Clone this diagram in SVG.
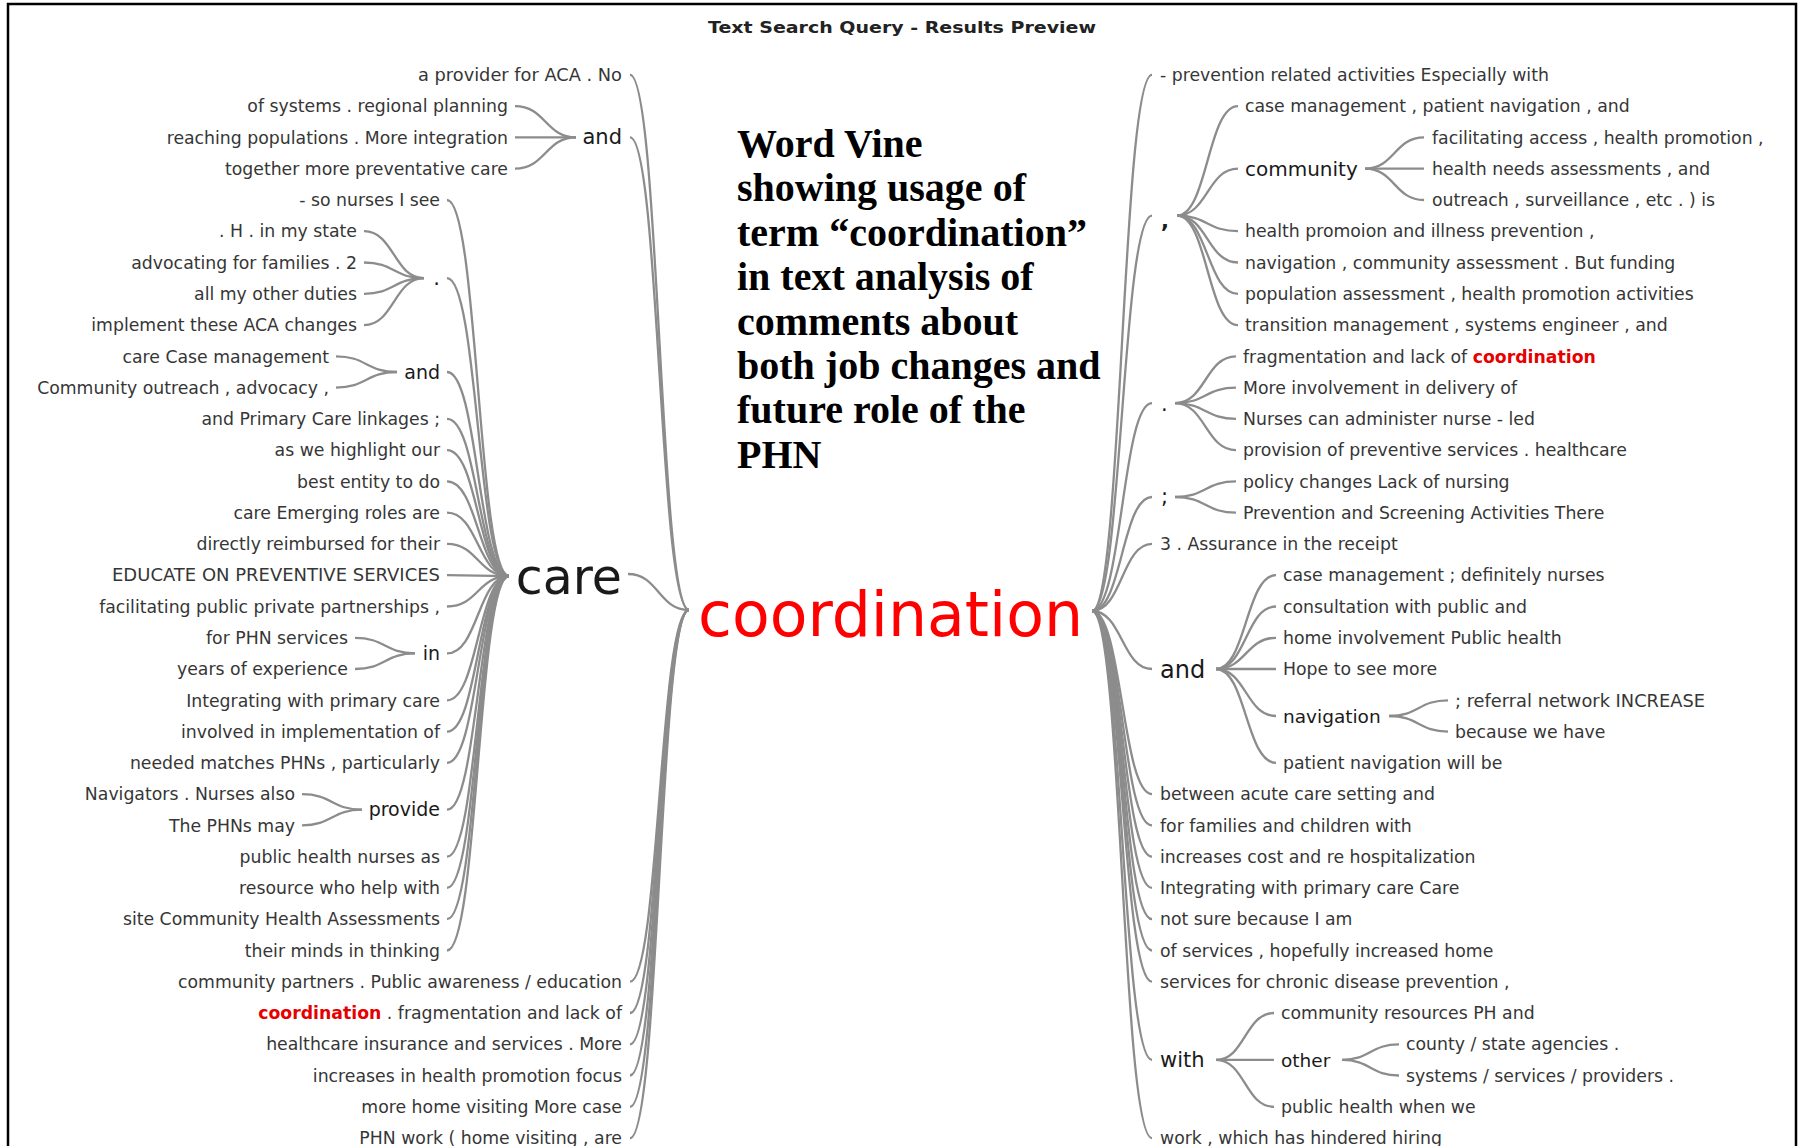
<svg xmlns="http://www.w3.org/2000/svg" width="1806" height="1146" viewBox="0 0 1806 1146">
<style>
text{font-family:"DejaVu Sans",Verdana,sans-serif;}
.s{font-size:17.3px;fill:#363636;}
.e{text-anchor:end;}
.n{fill:#1a1a1a;}
.r{fill:#e60000;font-weight:bold;}
.title{font-size:15px;font-weight:bold;fill:#222;text-anchor:middle;}
.head{font-family:"Liberation Serif","Times New Roman",serif;font-size:40px;font-weight:bold;fill:#000;}
#connectors path{fill:none;stroke:#8c8c8c;stroke-width:2.3;}
</style>
<rect x="8" y="4" width="1788" height="1160" fill="#fff" stroke="#000" stroke-width="2.5"/>
<text class="title" x="902" y="33" textLength="388" lengthAdjust="spacingAndGlyphs">Text Search Query - Results Preview</text>
<g id="heading">
<text class="head" x="737" y="156.5">Word Vine</text>
<text class="head" x="737" y="201">showing usage of</text>
<text class="head" x="737" y="245.5">term “coordination”</text>
<text class="head" x="737" y="290">in text analysis of</text>
<text class="head" x="737" y="334.5">comments about</text>
<text class="head" x="737" y="378.5">both job changes and</text>
<text class="head" x="737" y="423">future role of the</text>
<text class="head" x="737" y="467.5">PHN</text>
</g>
<g id="connectors">
<path d="M689 610 C659.5 610 659.5 74.9 630 74.9"/>
<path d="M689 610 C659.5 610 659.5 137.4 630 137.4"/>
<path d="M689 610 C658.5 610 658.5 574 628 574"/>
<path d="M689 610 C659.5 610 659.5 981.7 630 981.7"/>
<path d="M689 610 C659.5 610 659.5 1013 630 1013"/>
<path d="M689 610 C659.5 610 659.5 1044.3 630 1044.3"/>
<path d="M689 610 C659.5 610 659.5 1075.5 630 1075.5"/>
<path d="M689 610 C659.5 610 659.5 1106.8 630 1106.8"/>
<path d="M689 610 C659.5 610 659.5 1138.1 630 1138.1"/>
<path d="M576 137.4 C545.5 137.4 545.5 106.2 515 106.2"/>
<path d="M576 137.4 C545.5 137.4 545.5 137.4 515 137.4"/>
<path d="M576 137.4 C545.5 137.4 545.5 168.7 515 168.7"/>
<path d="M509 576 C478 576 478 200 447 200"/>
<path d="M509 576 C478 576 478 278.2 447 278.2"/>
<path d="M509 576 C478 576 478 372 447 372"/>
<path d="M509 576 C478 576 478 418.9 447 418.9"/>
<path d="M509 576 C478 576 478 450.1 447 450.1"/>
<path d="M509 576 C478 576 478 481.4 447 481.4"/>
<path d="M509 576 C478 576 478 512.7 447 512.7"/>
<path d="M509 576 C478 576 478 543.9 447 543.9"/>
<path d="M509 576 C478 576 478 575.2 447 575.2"/>
<path d="M509 576 C478 576 478 606.5 447 606.5"/>
<path d="M509 576 C478 576 478 653.4 447 653.4"/>
<path d="M509 576 C478 576 478 700.3 447 700.3"/>
<path d="M509 576 C478 576 478 731.6 447 731.6"/>
<path d="M509 576 C478 576 478 762.8 447 762.8"/>
<path d="M509 576 C478 576 478 809.7 447 809.7"/>
<path d="M509 576 C478 576 478 856.7 447 856.7"/>
<path d="M509 576 C478 576 478 887.9 447 887.9"/>
<path d="M509 576 C478 576 478 919.2 447 919.2"/>
<path d="M509 576 C478 576 478 950.5 447 950.5"/>
<path d="M424 278.2 C394 278.2 394 231.2 364 231.2"/>
<path d="M424 278.2 C394 278.2 394 262.5 364 262.5"/>
<path d="M424 278.2 C394 278.2 394 293.8 364 293.8"/>
<path d="M424 278.2 C394 278.2 394 325.1 364 325.1"/>
<path d="M397 372 C366.5 372 366.5 356.3 336 356.3"/>
<path d="M397 372 C366.5 372 366.5 387.6 336 387.6"/>
<path d="M415 653.4 C385 653.4 385 637.8 355 637.8"/>
<path d="M415 653.4 C385 653.4 385 669 355 669"/>
<path d="M362 809.7 C332 809.7 332 794.1 302 794.1"/>
<path d="M362 809.7 C332 809.7 332 825.4 302 825.4"/>
<path d="M1092 611 C1122 611 1122 74.9 1152 74.9"/>
<path d="M1092 611 C1122 611 1122 215.6 1152 215.6"/>
<path d="M1092 611 C1122 611 1122 403.2 1152 403.2"/>
<path d="M1092 611 C1122 611 1122 497 1152 497"/>
<path d="M1092 611 C1122 611 1122 543.9 1152 543.9"/>
<path d="M1092 611 C1122 611 1122 669 1152 669"/>
<path d="M1092 611 C1122 611 1122 794.1 1152 794.1"/>
<path d="M1092 611 C1122 611 1122 825.4 1152 825.4"/>
<path d="M1092 611 C1122 611 1122 856.7 1152 856.7"/>
<path d="M1092 611 C1122 611 1122 887.9 1152 887.9"/>
<path d="M1092 611 C1122 611 1122 919.2 1152 919.2"/>
<path d="M1092 611 C1122 611 1122 950.5 1152 950.5"/>
<path d="M1092 611 C1122 611 1122 981.7 1152 981.7"/>
<path d="M1092 611 C1122 611 1122 1059.9 1152 1059.9"/>
<path d="M1092 611 C1122 611 1122 1138.1 1152 1138.1"/>
<path d="M1177 215.6 C1207.5 215.6 1207.5 106.2 1238 106.2"/>
<path d="M1177 215.6 C1207.5 215.6 1207.5 168.7 1238 168.7"/>
<path d="M1177 215.6 C1207.5 215.6 1207.5 231.2 1238 231.2"/>
<path d="M1177 215.6 C1207.5 215.6 1207.5 262.5 1238 262.5"/>
<path d="M1177 215.6 C1207.5 215.6 1207.5 293.8 1238 293.8"/>
<path d="M1177 215.6 C1207.5 215.6 1207.5 325.1 1238 325.1"/>
<path d="M1365 168.7 C1394.5 168.7 1394.5 137.4 1424 137.4"/>
<path d="M1365 168.7 C1394.5 168.7 1394.5 168.7 1424 168.7"/>
<path d="M1365 168.7 C1394.5 168.7 1394.5 200 1424 200"/>
<path d="M1175 403.2 C1205.5 403.2 1205.5 356.3 1236 356.3"/>
<path d="M1175 403.2 C1205.5 403.2 1205.5 387.6 1236 387.6"/>
<path d="M1175 403.2 C1205.5 403.2 1205.5 418.9 1236 418.9"/>
<path d="M1175 403.2 C1205.5 403.2 1205.5 450.1 1236 450.1"/>
<path d="M1175 497 C1205.5 497 1205.5 481.4 1236 481.4"/>
<path d="M1175 497 C1205.5 497 1205.5 512.7 1236 512.7"/>
<path d="M1216 669 C1246 669 1246 575.2 1276 575.2"/>
<path d="M1216 669 C1246 669 1246 606.5 1276 606.5"/>
<path d="M1216 669 C1246 669 1246 637.8 1276 637.8"/>
<path d="M1216 669 C1246 669 1246 669 1276 669"/>
<path d="M1216 669 C1246 669 1246 716 1276 716"/>
<path d="M1216 669 C1246 669 1246 762.8 1276 762.8"/>
<path d="M1389 716 C1418.5 716 1418.5 700.3 1448 700.3"/>
<path d="M1389 716 C1418.5 716 1418.5 731.6 1448 731.6"/>
<path d="M1216 1059.9 C1245 1059.9 1245 1013 1274 1013"/>
<path d="M1216 1059.9 C1245 1059.9 1245 1059.9 1274 1059.9"/>
<path d="M1216 1059.9 C1245 1059.9 1245 1106.8 1274 1106.8"/>
<path d="M1342 1059.9 C1370.5 1059.9 1370.5 1044.3 1399 1044.3"/>
<path d="M1342 1059.9 C1370.5 1059.9 1370.5 1075.5 1399 1075.5"/>
</g>
<g id="n-coordination"><text x="698" y="636" textLength="385" lengthAdjust="spacingAndGlyphs" style="font-size:62px;fill:#ff0000">coordination</text></g>
<g id="l-a-provider"><text class="s e" x="622" y="81" textLength="204" lengthAdjust="spacingAndGlyphs">a provider for ACA . No</text></g>
<g id="l-and"><text class="n e" x="622" y="144" style="font-size:21px">and</text></g>
<g id="l-and-1"><text class="s e" x="508" y="112">of systems . regional planning</text></g>
<g id="l-and-2"><text class="s e" x="508" y="143.5">reaching populations . More integration</text></g>
<g id="l-and-3"><text class="s e" x="508" y="174.5">together more preventative care</text></g>
<g id="n-care"><text class="n e" x="622" y="594" style="font-size:49px">care</text></g>
<g id="c-1"><text class="s e" x="440" y="206">- so nurses I see</text></g>
<g id="c-period"><text class="n e" x="440" y="285" style="font-size:21px">.</text></g>
<g id="c-period-1"><text class="s e" x="357" y="237">. H . in my state</text></g>
<g id="c-period-2"><text class="s e" x="357" y="268.5">advocating for families . 2</text></g>
<g id="c-period-3"><text class="s e" x="357" y="300">all my other duties</text></g>
<g id="c-period-4"><text class="s e" x="357" y="331">implement these ACA changes</text></g>
<g id="c-and"><text class="n e" x="440" y="378.5" style="font-size:19px">and</text></g>
<g id="c-and-1"><text class="s e" x="329" y="362.5">care Case management</text></g>
<g id="c-and-2"><text class="s e" x="329" y="393.5">Community outreach , advocacy ,</text></g>
<g id="c-2"><text class="s e" x="440" y="425">and Primary Care linkages ;</text></g>
<g id="c-3"><text class="s e" x="440" y="456">as we highlight our</text></g>
<g id="c-4"><text class="s e" x="440" y="487.5">best entity to do</text></g>
<g id="c-5"><text class="s e" x="440" y="518.5">care Emerging roles are</text></g>
<g id="c-6"><text class="s e" x="440" y="550">directly reimbursed for their</text></g>
<g id="c-7"><text class="s e" x="440" y="581" textLength="328" lengthAdjust="spacingAndGlyphs">EDUCATE ON PREVENTIVE SERVICES</text></g>
<g id="c-8"><text class="s e" x="440" y="612.5">facilitating public private partnerships ,</text></g>
<g id="c-in"><text class="n e" x="440" y="660" style="font-size:19px">in</text></g>
<g id="c-in-1"><text class="s e" x="348" y="644">for PHN services</text></g>
<g id="c-in-2"><text class="s e" x="348" y="675">years of experience</text></g>
<g id="c-9"><text class="s e" x="440" y="706.5">Integrating with primary care</text></g>
<g id="c-10"><text class="s e" x="440" y="737.5">involved in implementation of</text></g>
<g id="c-11"><text class="s e" x="440" y="769">needed matches PHNs , particularly</text></g>
<g id="c-provide"><text class="n e" x="440" y="816" style="font-size:19px">provide</text></g>
<g id="c-provide-1"><text class="s e" x="295" y="800">Navigators . Nurses also</text></g>
<g id="c-provide-2"><text class="s e" x="295" y="831.5">The PHNs may</text></g>
<g id="c-12"><text class="s e" x="440" y="862.5">public health nurses as</text></g>
<g id="c-13"><text class="s e" x="440" y="894">resource who help with</text></g>
<g id="c-14"><text class="s e" x="440" y="925">site Community Health Assessments</text></g>
<g id="c-15"><text class="s e" x="440" y="956.5">their minds in thinking</text></g>
<g id="l-29"><text class="s e" x="622" y="987.5">community partners . Public awareness / education</text></g>
<g id="l-30"><text class="s e" x="622" y="1019"><tspan class="r">coordination</tspan> . fragmentation and lack of</text></g>
<g id="l-31"><text class="s e" x="622" y="1050">healthcare insurance and services . More</text></g>
<g id="l-32"><text class="s e" x="622" y="1081.5">increases in health promotion focus</text></g>
<g id="l-33"><text class="s e" x="622" y="1112.5">more home visiting More case</text></g>
<g id="l-34"><text class="s e" x="622" y="1144">PHN work ( home visiting , are</text></g>
<g id="r-0"><text class="s" x="1160" y="81">- prevention related activities Especially with</text></g>
<g id="r-comma"><text class="n" x="1161" y="228" style="font-size:21px;font-weight:bold">,</text></g>
<g id="r-comma-1"><text class="s" x="1245" y="112">case management , patient navigation , and</text></g>
<g id="r-community"><text class="n" x="1245" y="175.5" style="font-size:20px">community</text></g>
<g id="r-community-1"><text class="s" x="1432" y="143.5">facilitating access , health promotion ,</text></g>
<g id="r-community-2"><text class="s" x="1432" y="174.5">health needs assessments , and</text></g>
<g id="r-community-3"><text class="s" x="1432" y="206">outreach , surveillance , etc . ) is</text></g>
<g id="r-comma-2"><text class="s" x="1245" y="237">health promoion and illness prevention ,</text></g>
<g id="r-comma-3"><text class="s" x="1245" y="268.5">navigation , community assessment . But funding</text></g>
<g id="r-comma-4"><text class="s" x="1245" y="300">population assessment , health promotion activities</text></g>
<g id="r-comma-5"><text class="s" x="1245" y="331">transition management , systems engineer , and</text></g>
<g id="r-period"><text class="n" x="1161" y="411" style="font-size:21px">.</text></g>
<g id="r-period-1"><text class="s" x="1243" y="362.5">fragmentation and lack of <tspan class="r">coordination</tspan></text></g>
<g id="r-period-2"><text class="s" x="1243" y="393.5">More involvement in delivery of</text></g>
<g id="r-period-3"><text class="s" x="1243" y="425">Nurses can administer nurse - led</text></g>
<g id="r-period-4"><text class="s" x="1243" y="456">provision of preventive services . healthcare</text></g>
<g id="r-semi"><text class="n" x="1161" y="504" style="font-size:21px">;</text></g>
<g id="r-semi-1"><text class="s" x="1243" y="487.5">policy changes Lack of nursing</text></g>
<g id="r-semi-2"><text class="s" x="1243" y="518.5">Prevention and Screening Activities There</text></g>
<g id="r-15"><text class="s" x="1160" y="550">3 . Assurance in the receipt</text></g>
<g id="r-and"><text class="n" x="1160" y="677.5" style="font-size:24px">and</text></g>
<g id="r-and-1"><text class="s" x="1283" y="581">case management ; definitely nurses</text></g>
<g id="r-and-2"><text class="s" x="1283" y="612.5">consultation with public and</text></g>
<g id="r-and-3"><text class="s" x="1283" y="644">home involvement Public health</text></g>
<g id="r-and-4"><text class="s" x="1283" y="675">Hope to see more</text></g>
<g id="r-navigation"><text class="n" x="1283" y="722.5" style="font-size:18.5px">navigation</text></g>
<g id="r-navigation-1"><text class="s" x="1455" y="706.5" textLength="250" lengthAdjust="spacingAndGlyphs">; referral network INCREASE</text></g>
<g id="r-navigation-2"><text class="s" x="1455" y="737.5">because we have</text></g>
<g id="r-and-5"><text class="s" x="1283" y="769">patient navigation will be</text></g>
<g id="r-23"><text class="s" x="1160" y="800">between acute care setting and</text></g>
<g id="r-24"><text class="s" x="1160" y="831.5">for families and children with</text></g>
<g id="r-25"><text class="s" x="1160" y="862.5">increases cost and re hospitalization</text></g>
<g id="r-26"><text class="s" x="1160" y="894">Integrating with primary care Care</text></g>
<g id="r-27"><text class="s" x="1160" y="925">not sure because I am</text></g>
<g id="r-28"><text class="s" x="1160" y="956.5">of services , hopefully increased home</text></g>
<g id="r-29"><text class="s" x="1160" y="987.5">services for chronic disease prevention ,</text></g>
<g id="r-with"><text class="n" x="1160" y="1067" style="font-size:21px">with</text></g>
<g id="r-with-1"><text class="s" x="1281" y="1019">community resources PH and</text></g>
<g id="r-other"><text class="n" x="1281" y="1066.5" style="font-size:18.5px">other</text></g>
<g id="r-other-1"><text class="s" x="1406" y="1050">county / state agencies .</text></g>
<g id="r-other-2"><text class="s" x="1406" y="1081.5">systems / services / providers .</text></g>
<g id="r-with-2"><text class="s" x="1281" y="1112.5">public health when we</text></g>
<g id="r-34"><text class="s" x="1160" y="1144">work , which has hindered hiring</text></g>
</svg>
